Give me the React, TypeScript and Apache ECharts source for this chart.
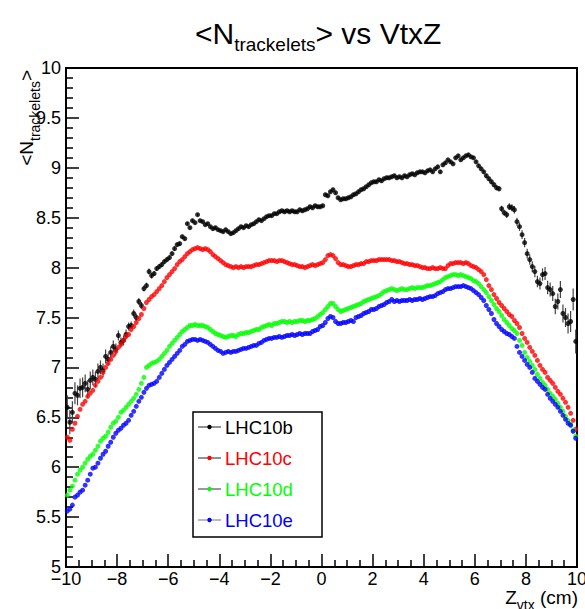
import React, { useEffect, useRef } from "react";
import * as echarts from "echarts";

// Histogram binning of the x axis (Z_vtx, cm)
const binLow = -10;
const binWidth = 0.1;
const nBins = 200;

const seriesNames = ["LHC10b", "LHC10c", "LHC10d", "LHC10e"];
const seriesColors = ["#000000", "#ff0000", "#00ff00", "#0000ff"];
const legendLineColors = ["#222222", "#222222", "#333333", "#777777"];

// <N_trackelets> per 0.1 cm bin
const lhc10b = [
  6.60, 6.45, 6.55, 6.74, 6.72, 6.79, 6.80, 6.84, 6.78, 6.87,
  6.90, 6.88, 6.96, 7.00, 6.97, 7.11, 7.08, 7.15, 7.21, 7.18,
  7.32, 7.25, 7.27, 7.33, 7.41, 7.42, 7.54, 7.50, 7.66, 7.62,
  7.79, 7.82, 7.96, 7.92, 7.94, 7.99, 8.01, 8.03, 8.06, 8.08,
  8.10, 8.14, 8.19, 8.23, 8.24, 8.31, 8.29, 8.44, 8.40, 8.47,
  8.45, 8.53, 8.47, 8.46, 8.43, 8.44, 8.41, 8.39, 8.40, 8.38,
  8.37, 8.36, 8.38, 8.36, 8.34, 8.35, 8.37, 8.39, 8.41, 8.40,
  8.42, 8.41, 8.43, 8.44, 8.46, 8.48, 8.47, 8.49, 8.51, 8.52,
  8.52, 8.54, 8.54, 8.56, 8.57, 8.56, 8.57, 8.56, 8.57, 8.56,
  8.56, 8.58, 8.57, 8.58, 8.59, 8.61, 8.60, 8.62, 8.61, 8.61,
  8.62, 8.73, 8.72, 8.76, 8.78, 8.75, 8.70, 8.68, 8.69, 8.69,
  8.70, 8.71, 8.73, 8.74, 8.76, 8.78, 8.79, 8.81, 8.83, 8.85,
  8.86, 8.86, 8.88, 8.87, 8.89, 8.90, 8.90, 8.91, 8.92, 8.90,
  8.91, 8.90, 8.92, 8.91, 8.93, 8.94, 8.93, 8.95, 8.96, 8.96,
  8.95, 8.97, 8.98, 8.96, 8.99, 9.01, 8.96, 9.03, 9.05, 9.08,
  9.06, 9.04, 9.10, 9.12, 9.08, 9.10, 9.12, 9.13, 9.11, 9.10,
  9.06, 9.02, 8.99, 8.96, 8.92, 8.89, 8.86, 8.83, 8.80, 8.79,
  8.59, 8.55, 8.53, 8.61, 8.60, 8.58, 8.46, 8.41, 8.33, 8.25,
  8.14, 8.08, 8.01, 7.96, 7.86, 7.84, 7.93, 7.94, 7.80, 7.78,
  7.74, 7.61, 7.66, 7.78, 7.54, 7.50, 7.44, 7.46, 7.68, 7.26,
];

const lhc10bErr = [
  0.12, 0.12, 0.11, 0.11, 0.10, 0.10, 0.10, 0.09, 0.09, 0.09,
  0.08, 0.08, 0.08, 0.07, 0.07, 0.07, 0.06, 0.06, 0.06, 0.06,
  0.05, 0.05, 0.05, 0.05, 0.04, 0.04, 0.04, 0.04, 0.035, 0.035,
  0.03, 0.03, 0.03, 0.03, 0.025, 0.025, 0.025, 0.025, 0.02, 0.02,
  0.02, 0.02, 0.02, 0.02, 0.02, 0.018, 0.018, 0.018, 0.018, 0.018,
  0.015, 0.015, 0.015, 0.015, 0.015, 0.015, 0.015, 0.015, 0.015, 0.015,
  0.015, 0.015, 0.015, 0.015, 0.015, 0.015, 0.015, 0.015, 0.015, 0.015,
  0.015, 0.015, 0.015, 0.015, 0.015, 0.015, 0.015, 0.015, 0.015, 0.015,
  0.015, 0.015, 0.015, 0.015, 0.015, 0.015, 0.015, 0.015, 0.015, 0.015,
  0.015, 0.015, 0.015, 0.015, 0.015, 0.015, 0.015, 0.015, 0.015, 0.015,
  0.015, 0.015, 0.015, 0.015, 0.015, 0.015, 0.015, 0.015, 0.015, 0.015,
  0.015, 0.015, 0.015, 0.015, 0.015, 0.015, 0.015, 0.015, 0.015, 0.015,
  0.015, 0.015, 0.015, 0.015, 0.015, 0.015, 0.015, 0.015, 0.015, 0.015,
  0.015, 0.015, 0.015, 0.015, 0.015, 0.015, 0.015, 0.015, 0.015, 0.015,
  0.015, 0.015, 0.015, 0.015, 0.015, 0.015, 0.015, 0.015, 0.015, 0.015,
  0.015, 0.015, 0.015, 0.015, 0.015, 0.015, 0.015, 0.015, 0.015, 0.015,
  0.018, 0.018, 0.02, 0.02, 0.02, 0.022, 0.022, 0.024, 0.025, 0.026,
  0.03, 0.03, 0.032, 0.034, 0.036, 0.038, 0.04, 0.042, 0.044, 0.046,
  0.05, 0.052, 0.054, 0.056, 0.058, 0.06, 0.062, 0.065, 0.068, 0.07,
  0.075, 0.078, 0.08, 0.085, 0.09, 0.095, 0.1, 0.105, 0.11, 0.12,
];

const lhc10c = [
  6.30, 6.27, 6.38, 6.44, 6.51, 6.58, 6.63, 6.66, 6.71, 6.74,
  6.77, 6.82, 6.86, 6.90, 6.95, 7.00, 7.04, 7.08, 7.12, 7.16,
  7.20, 7.23, 7.27, 7.31, 7.33, 7.38, 7.41, 7.45, 7.49, 7.53,
  7.59, 7.65, 7.68, 7.71, 7.73, 7.76, 7.79, 7.82, 7.86, 7.90,
  7.93, 7.96, 7.99, 8.03, 8.06, 8.08, 8.11, 8.14, 8.16, 8.18,
  8.19, 8.20, 8.19, 8.18, 8.19, 8.18, 8.16, 8.13, 8.11, 8.09,
  8.07, 8.05, 8.03, 8.02, 8.01, 8.00, 8.01, 8.00, 8.01, 8.00,
  8.01, 8.01, 8.01, 8.02, 8.03, 8.03, 8.04, 8.05, 8.06, 8.07,
  8.07, 8.07, 8.06, 8.07, 8.07, 8.06, 8.05, 8.04, 8.03, 8.03,
  8.02, 8.01, 8.01, 8.00, 8.01, 8.02, 8.03, 8.02, 8.03, 8.04,
  8.05, 8.08, 8.12, 8.13, 8.12, 8.09, 8.05, 8.03, 8.03, 8.02,
  8.01, 8.01, 8.02, 8.03, 8.03, 8.04, 8.04, 8.06, 8.06, 8.07,
  8.07, 8.07, 8.08, 8.08, 8.08, 8.08, 8.08, 8.07, 8.07, 8.06,
  8.06, 8.05, 8.04, 8.04, 8.03, 8.03, 8.02, 8.02, 8.01, 8.00,
  8.00, 7.99, 7.99, 8.00, 7.99, 7.99, 8.00, 7.99, 7.99, 8.02,
  8.04, 8.04, 8.05, 8.05, 8.05, 8.04, 8.05, 8.04, 8.02, 8.01,
  8.00, 7.98, 7.96, 7.93, 7.88, 7.82, 7.78, 7.73, 7.69, 7.65,
  7.62, 7.59, 7.56, 7.53, 7.51, 7.47, 7.44, 7.40, 7.34, 7.29,
  7.25, 7.20, 7.16, 7.12, 7.07, 7.02, 6.98, 6.95, 6.90, 6.87,
  6.84, 6.80, 6.76, 6.73, 6.69, 6.65, 6.60, 6.54, 6.47, 6.38,
];

const lhc10d = [
  5.72, 5.77, 5.81, 5.87, 5.93, 5.97, 6.00, 6.04, 6.08, 6.11,
  6.13, 6.17, 6.21, 6.26, 6.29, 6.31, 6.35, 6.40, 6.44, 6.46,
  6.50, 6.55, 6.57, 6.60, 6.63, 6.66, 6.69, 6.73, 6.78, 6.84,
  6.90, 7.00, 7.02, 7.04, 7.05, 7.06, 7.08, 7.11, 7.14, 7.17,
  7.21, 7.24, 7.27, 7.30, 7.33, 7.36, 7.38, 7.40, 7.42, 7.42,
  7.43, 7.42, 7.42, 7.42, 7.41, 7.40, 7.38, 7.36, 7.34, 7.33,
  7.32, 7.31, 7.30, 7.31, 7.32, 7.32, 7.31, 7.33, 7.34, 7.34,
  7.35, 7.35, 7.36, 7.37, 7.38, 7.38, 7.40, 7.41, 7.42, 7.43,
  7.42, 7.44, 7.44, 7.45, 7.46, 7.46, 7.45, 7.46, 7.45, 7.46,
  7.46, 7.47, 7.47, 7.46, 7.47, 7.47, 7.48, 7.49, 7.51, 7.53,
  7.55, 7.58, 7.61, 7.64, 7.64, 7.61, 7.58, 7.56, 7.57, 7.58,
  7.59, 7.60, 7.61, 7.62, 7.63, 7.64, 7.66, 7.67, 7.68, 7.69,
  7.70, 7.71, 7.72, 7.74, 7.76, 7.77, 7.78, 7.79, 7.78, 7.77,
  7.78, 7.79, 7.78, 7.78, 7.79, 7.80, 7.79, 7.80, 7.80, 7.80,
  7.81, 7.82, 7.82, 7.83, 7.84, 7.85, 7.86, 7.88, 7.90, 7.91,
  7.92, 7.93, 7.93, 7.92, 7.93, 7.92, 7.91, 7.90, 7.89, 7.87,
  7.86, 7.84, 7.81, 7.78, 7.75, 7.71, 7.67, 7.63, 7.59, 7.56,
  7.52, 7.48, 7.45, 7.42, 7.39, 7.37, 7.34, 7.27, 7.22, 7.15,
  7.10, 7.06, 7.02, 6.98, 6.93, 6.89, 6.85, 6.82, 6.78, 6.74,
  6.71, 6.68, 6.64, 6.60, 6.56, 6.51, 6.47, 6.43, 6.37, 6.31,
];

const lhc10e = [
  5.56, 5.58, 5.62, 5.70, 5.72, 5.75, 5.77, 5.82, 5.87, 5.93,
  5.99, 6.00, 6.04, 6.09, 6.13, 6.16, 6.21, 6.25, 6.30, 6.34,
  6.37, 6.39, 6.42, 6.44, 6.47, 6.52, 6.56, 6.61, 6.66, 6.70,
  6.75, 6.79, 6.82, 6.83, 6.84, 6.86, 6.90, 6.94, 6.98, 7.02,
  7.05, 7.08, 7.11, 7.14, 7.17, 7.21, 7.23, 7.26, 7.27, 7.28,
  7.28, 7.27, 7.28, 7.27, 7.26, 7.25, 7.23, 7.21, 7.19, 7.17,
  7.16, 7.14, 7.15, 7.16, 7.15, 7.16, 7.16, 7.17, 7.18, 7.19,
  7.19, 7.20, 7.21, 7.22, 7.22, 7.24, 7.25, 7.27, 7.28, 7.29,
  7.29, 7.30, 7.30, 7.31, 7.30, 7.31, 7.32, 7.32, 7.33, 7.32,
  7.33, 7.34, 7.33, 7.34, 7.34, 7.34, 7.36, 7.37, 7.38, 7.41,
  7.42, 7.45, 7.49, 7.51, 7.50, 7.46, 7.44, 7.44, 7.45, 7.45,
  7.46, 7.47, 7.46, 7.50, 7.51, 7.52, 7.54, 7.55, 7.56, 7.58,
  7.58, 7.59, 7.61, 7.62, 7.63, 7.65, 7.66, 7.68, 7.66, 7.67,
  7.66, 7.67, 7.67, 7.67, 7.68, 7.67, 7.68, 7.68, 7.69, 7.68,
  7.69, 7.70, 7.71, 7.71, 7.72, 7.74, 7.75, 7.76, 7.78, 7.79,
  7.79, 7.80, 7.81, 7.81, 7.81, 7.82, 7.81, 7.80, 7.79, 7.77,
  7.75, 7.73, 7.70, 7.67, 7.62, 7.58, 7.54, 7.48, 7.44, 7.41,
  7.38, 7.36, 7.34, 7.33, 7.31, 7.29, 7.21, 7.15, 7.11, 7.07,
  7.03, 7.00, 6.95, 6.89, 6.86, 6.83, 6.80, 6.78, 6.73, 6.69,
  6.66, 6.63, 6.60, 6.56, 6.52, 6.48, 6.44, 6.42, 6.36, 6.29,
];

const seriesValues = [lhc10b, lhc10c, lhc10d, lhc10e];

const FONT = '"Liberation Sans", Arial, Helvetica, sans-serif';

function measure(text: string, size: number): number {
  const ctx = document.createElement("canvas").getContext("2d");
  if (!ctx) return text.length * size * 0.55;
  ctx.font = `${size}px ${FONT}`;
  return ctx.measureText(text).width;
}

// offset from baseline to the SVG "central" baseline for Liberation Sans
const central = (size: number) => 0.3465 * size;

export default function App() {
  const ref = useRef<HTMLDivElement>(null);

  useEffect(() => {
    if (!ref.current) return;
    const chart = echarts.init(ref.current, null, { renderer: "svg" });

    const centers = Array.from({ length: nBins }, (_, i) =>
      Number((binLow + binWidth * (i + 0.5)).toFixed(2))
    );

    const graphics: any[] = [];

    // ---- Title: <N_trackelets> vs VtxZ
    const tMain = 30, tSub = 19;
    const tBase = 44, tSubBase = 51;
    let tx = 195;
    const tParts: [string, number, number][] = [
      ["<N", tMain, tBase],
      ["trackelets", tSub, tSubBase],
      ["> vs VtxZ", tMain, tBase],
    ];
    tParts.forEach(([s, size, base]) => {
      graphics.push({
        type: "text", x: tx, y: base - central(size), silent: true,
        style: { text: s, fontSize: size, fontFamily: FONT, fill: "#000", align: "left", verticalAlign: "middle" },
      });
      tx += measure(s, size);
    });

    // ---- Y axis title (rotated, reading bottom to top, ending at top of frame)
    const yMain = 19, ySub = 14;
    const yBaseX = 33, ySubBaseX = 40;
    const yParts: [string, number, number][] = [
      ["<N", yMain, yBaseX],
      ["trackelets", ySub, ySubBaseX],
      [">", yMain, yBaseX],
    ];
    const yTotal = yParts.reduce((a, [s, size]) => a + measure(s, size), 0);
    let yy = 70 + yTotal;
    yParts.forEach(([s, size, bx]) => {
      graphics.push({
        type: "text", x: bx - central(size), y: yy, rotation: Math.PI / 2, silent: true,
        style: { text: s, fontSize: size, fontFamily: FONT, fill: "#000", align: "left", verticalAlign: "middle" },
      });
      yy -= measure(s, size);
    });

    // ---- X axis title: Z_vtx (cm), right aligned to frame
    const xMain = 19, xSub = 14;
    const xParts: [string, number, number][] = [
      ["Z", xMain, 604],
      ["vtx", xSub, 610],
      [" (cm)", xMain, 604],
    ];
    const xTotal = xParts.reduce((a, [s, size]) => a + measure(s, size), 0);
    let xx = 578 - xTotal;
    xParts.forEach(([s, size, base]) => {
      graphics.push({
        type: "text", x: xx, y: base - central(size), silent: true,
        style: { text: s, fontSize: size, fontFamily: FONT, fill: "#000", align: "left", verticalAlign: "middle" },
      });
      xx += measure(s, size);
    });

    // ---- Legend box
    const lx0 = 193, ly0 = 412, lx1 = 322, ly1 = 537;
    graphics.push({
      type: "rect", silent: true, z: 100,
      shape: { x: lx0, y: ly0, width: lx1 - lx0, height: ly1 - ly0 },
      style: { fill: "#ffffff", stroke: "#000000", lineWidth: 1.5 },
    });
    seriesNames.forEach((name, i) => {
      const cy = 427 + 31 * i;
      graphics.push({
        type: "line", silent: true, z: 101,
        shape: { x1: 198, y1: cy, x2: 221, y2: cy },
        style: { stroke: legendLineColors[i], lineWidth: 1 },
      });
      graphics.push({
        type: "circle", silent: true, z: 102,
        shape: { cx: 209.5, cy, r: 2.2 },
        style: { fill: seriesColors[i] },
      });
      graphics.push({
        type: "text", silent: true, z: 102, x: 225, y: cy,
        style: { text: name, fontSize: 18.5, fontFamily: FONT, fill: seriesColors[i], align: "left", verticalAlign: "middle" },
      });
    });

    const errData = centers.map((c, i) => [c, lhc10b[i], lhc10bErr[i]]);

    const series: any[] = [
      {
        type: "custom",
        name: "LHC10b errors",
        silent: true,
        z: 1,
        encode: { x: 0, y: 1 },
        data: errData,
        renderItem: (_p: any, api: any) => {
          const x = api.value(0), y = api.value(1), e = api.value(2);
          const a = api.coord([x, y - e]);
          const b = api.coord([x, y + e]);
          return {
            type: "line",
            shape: { x1: a[0], y1: a[1], x2: b[0], y2: b[1] },
            style: { stroke: "#444444", lineWidth: 1.2 },
          };
        },
      },
    ];
    seriesValues.forEach((vals, k) => {
      series.push({
        type: "scatter",
        name: seriesNames[k],
        silent: true,
        z: 2 + k,
        symbol: "circle",
        symbolSize: 5,
        itemStyle: { color: seriesColors[k] },
        data: centers.map((c, i) => [c, vals[i]]),
      });
    });

    const axisLabelCommon = { color: "#000", fontSize: 18, fontFamily: FONT };

    chart.setOption({
      animation: false,
      backgroundColor: "#ffffff",
      grid: {
        left: 66, right: 8, top: 68, bottom: 42,
        show: true, borderColor: "#000", borderWidth: 2, backgroundColor: "transparent",
        containLabel: false, outerBoundsMode: "none",
      },
      xAxis: {
        type: "value", min: -10, max: 10, interval: 2,
        axisLine: { show: true, onZero: false, lineStyle: { color: "#000", width: 2 } },
        axisTick: { show: true, inside: true, length: 13, lineStyle: { color: "#000", width: 1.5 } },
        minorTick: { show: true, splitNumber: 4, length: 7, lineStyle: { color: "#000", width: 1.5 } },
        splitLine: { show: false },
        axisLabel: {
          ...axisLabelCommon, margin: 3,
          formatter: (v: number) => String(v).replace("-", "\u2212"),
        },
      },
      yAxis: {
        type: "value", min: 5, max: 10, interval: 0.5,
        axisLine: { show: true, onZero: false, lineStyle: { color: "#000", width: 2 } },
        axisTick: { show: true, inside: true, length: 13, lineStyle: { color: "#000", width: 1.5 } },
        minorTick: { show: true, splitNumber: 5, length: 7, lineStyle: { color: "#000", width: 1.5 } },
        splitLine: { show: false },
        axisLabel: { ...axisLabelCommon, margin: 5 },
      },
      graphic: { elements: graphics },
      series,
    });

    return () => chart.dispose();
  }, []);

  return (
    <div
      ref={ref}
      style={{ position: "fixed", left: 0, top: 0, width: 585, height: 609, background: "#fff" }}
    />
  );
}
